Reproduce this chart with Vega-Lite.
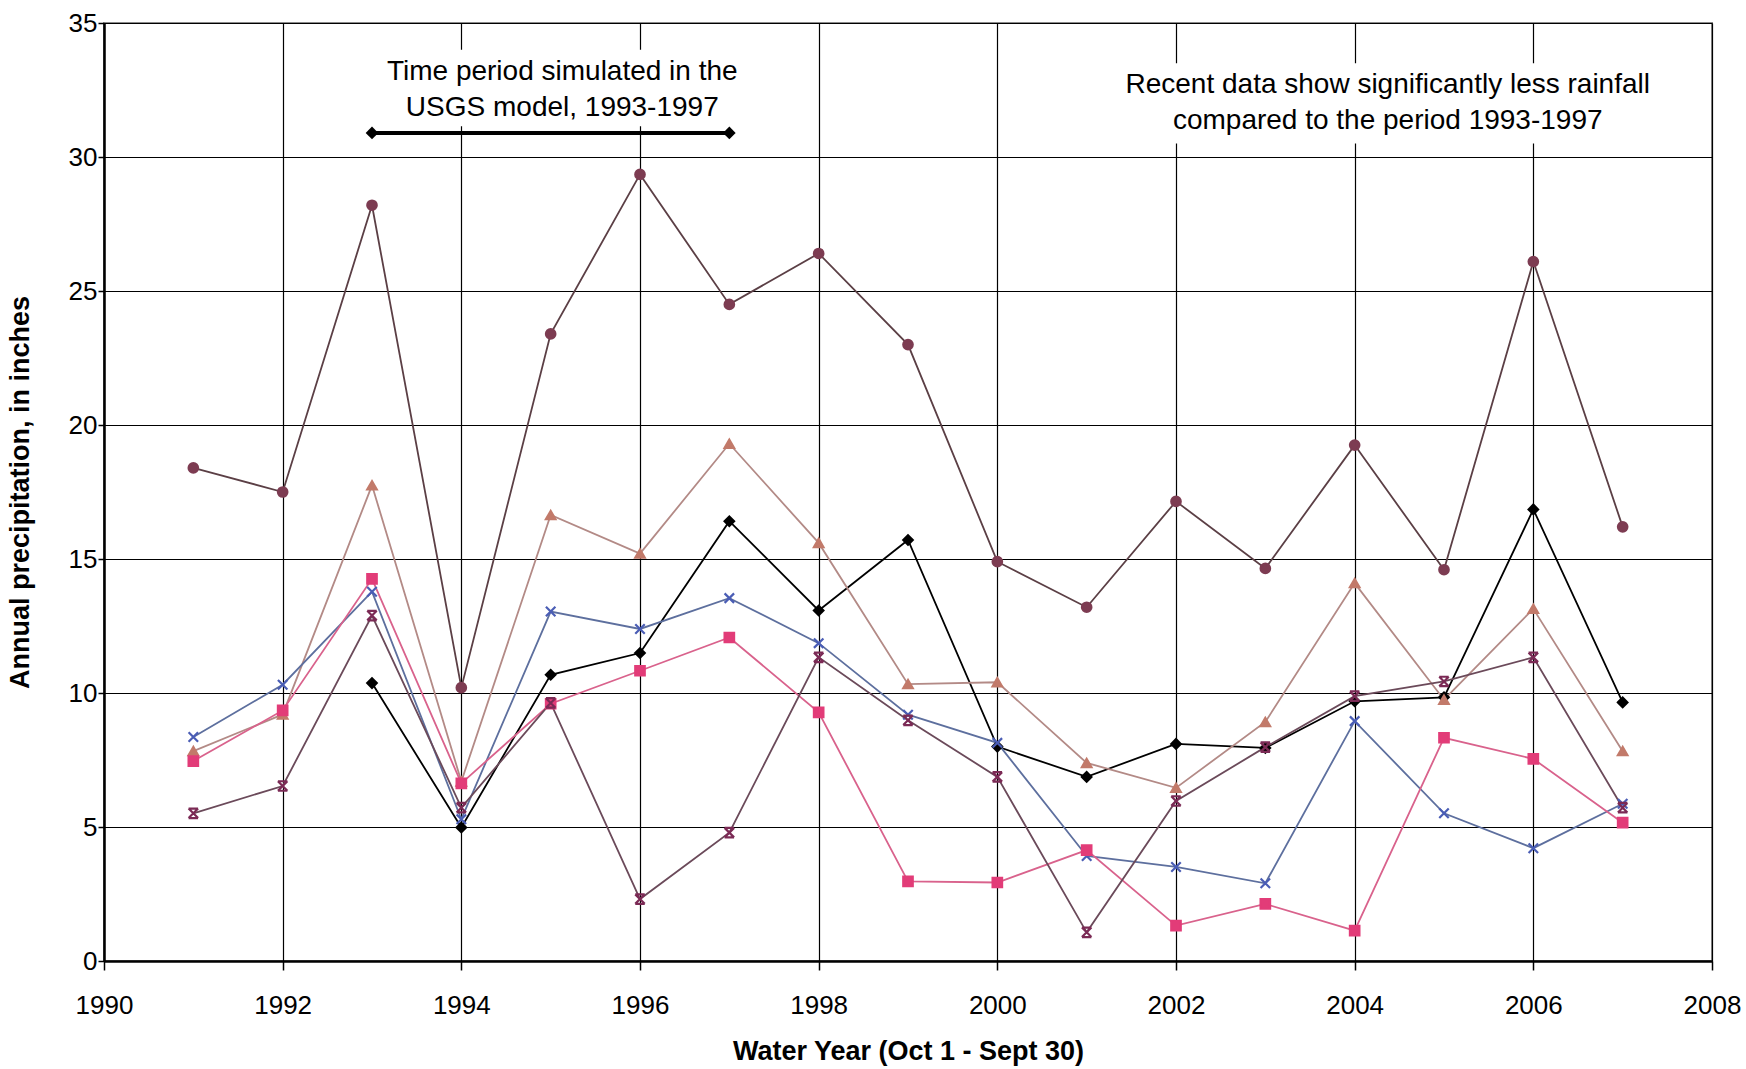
{
  "$schema": "https://vega.github.io/schema/vega-lite/v6.json",
  "width": 1608,
  "height": 938,
  "autosize": {"type": "none"},
  "padding": {"left": 104, "top": 23, "right": 34, "bottom": 108},
  "background": "white",
  "config": {
    "font": "Liberation Sans",
    "view": {"stroke": "#8a8a8a", "strokeWidth": 2}
  },
  "datasets": {
    "precip": [
      {"year": 1991, "value": 18.4, "series": "Site 1"},
      {"year": 1992, "value": 17.5, "series": "Site 1"},
      {"year": 1993, "value": 28.2, "series": "Site 1"},
      {"year": 1994, "value": 10.2, "series": "Site 1"},
      {"year": 1995, "value": 23.4, "series": "Site 1"},
      {"year": 1996, "value": 29.35, "series": "Site 1"},
      {"year": 1997, "value": 24.5, "series": "Site 1"},
      {"year": 1998, "value": 26.4, "series": "Site 1"},
      {"year": 1999, "value": 23.0, "series": "Site 1"},
      {"year": 2000, "value": 14.9, "series": "Site 1"},
      {"year": 2001, "value": 13.2, "series": "Site 1"},
      {"year": 2002, "value": 17.15, "series": "Site 1"},
      {"year": 2003, "value": 14.65, "series": "Site 1"},
      {"year": 2004, "value": 19.25, "series": "Site 1"},
      {"year": 2005, "value": 14.6, "series": "Site 1"},
      {"year": 2006, "value": 26.1, "series": "Site 1"},
      {"year": 2007, "value": 16.2, "series": "Site 1"},

      {"year": 1993, "value": 10.37, "series": "Site 2"},
      {"year": 1994, "value": 4.98, "series": "Site 2"},
      {"year": 1995, "value": 10.68, "series": "Site 2"},
      {"year": 1996, "value": 11.49, "series": "Site 2"},
      {"year": 1997, "value": 16.41, "series": "Site 2"},
      {"year": 1998, "value": 13.08, "series": "Site 2"},
      {"year": 1999, "value": 15.71, "series": "Site 2"},
      {"year": 2000, "value": 8.0, "series": "Site 2"},
      {"year": 2001, "value": 6.87, "series": "Site 2"},
      {"year": 2002, "value": 8.1, "series": "Site 2"},
      {"year": 2003, "value": 7.95, "series": "Site 2"},
      {"year": 2004, "value": 9.69, "series": "Site 2"},
      {"year": 2005, "value": 9.84, "series": "Site 2"},
      {"year": 2006, "value": 16.85, "series": "Site 2"},
      {"year": 2007, "value": 9.65, "series": "Site 2"},

      {"year": 1991, "value": 7.83, "series": "Site 3"},
      {"year": 1992, "value": 9.2, "series": "Site 3"},
      {"year": 1993, "value": 17.75, "series": "Site 3"},
      {"year": 1994, "value": 6.7, "series": "Site 3"},
      {"year": 1995, "value": 16.64, "series": "Site 3"},
      {"year": 1996, "value": 15.2, "series": "Site 3"},
      {"year": 1997, "value": 19.3, "series": "Site 3"},
      {"year": 1998, "value": 15.6, "series": "Site 3"},
      {"year": 1999, "value": 10.33, "series": "Site 3"},
      {"year": 2000, "value": 10.4, "series": "Site 3"},
      {"year": 2001, "value": 7.39, "series": "Site 3"},
      {"year": 2002, "value": 6.46, "series": "Site 3"},
      {"year": 2003, "value": 8.92, "series": "Site 3"},
      {"year": 2004, "value": 14.1, "series": "Site 3"},
      {"year": 2005, "value": 9.75, "series": "Site 3"},
      {"year": 2006, "value": 13.14, "series": "Site 3"},
      {"year": 2007, "value": 7.83, "series": "Site 3"},

      {"year": 1991, "value": 8.36, "series": "Site 4"},
      {"year": 1992, "value": 10.31, "series": "Site 4"},
      {"year": 1993, "value": 13.78, "series": "Site 4"},
      {"year": 1994, "value": 5.29, "series": "Site 4"},
      {"year": 1995, "value": 13.04, "series": "Site 4"},
      {"year": 1996, "value": 12.39, "series": "Site 4"},
      {"year": 1997, "value": 13.54, "series": "Site 4"},
      {"year": 1998, "value": 11.86, "series": "Site 4"},
      {"year": 1999, "value": 9.19, "series": "Site 4"},
      {"year": 2000, "value": 8.14, "series": "Site 4"},
      {"year": 2001, "value": 3.92, "series": "Site 4"},
      {"year": 2002, "value": 3.51, "series": "Site 4"},
      {"year": 2003, "value": 2.9, "series": "Site 4"},
      {"year": 2004, "value": 8.95, "series": "Site 4"},
      {"year": 2005, "value": 5.51, "series": "Site 4"},
      {"year": 2006, "value": 4.21, "series": "Site 4"},
      {"year": 2007, "value": 5.87, "series": "Site 4"},

      {"year": 1991, "value": 7.46, "series": "Site 5"},
      {"year": 1992, "value": 9.35, "series": "Site 5"},
      {"year": 1993, "value": 14.26, "series": "Site 5"},
      {"year": 1994, "value": 6.63, "series": "Site 5"},
      {"year": 1995, "value": 9.6, "series": "Site 5"},
      {"year": 1996, "value": 10.83, "series": "Site 5"},
      {"year": 1997, "value": 12.07, "series": "Site 5"},
      {"year": 1998, "value": 9.28, "series": "Site 5"},
      {"year": 1999, "value": 2.97, "series": "Site 5"},
      {"year": 2000, "value": 2.93, "series": "Site 5"},
      {"year": 2001, "value": 4.14, "series": "Site 5"},
      {"year": 2002, "value": 1.32, "series": "Site 5"},
      {"year": 2003, "value": 2.13, "series": "Site 5"},
      {"year": 2004, "value": 1.13, "series": "Site 5"},
      {"year": 2005, "value": 8.33, "series": "Site 5"},
      {"year": 2006, "value": 7.54, "series": "Site 5"},
      {"year": 2007, "value": 5.16, "series": "Site 5"},

      {"year": 1991, "value": 5.51, "series": "Site 6"},
      {"year": 1992, "value": 6.53, "series": "Site 6"},
      {"year": 1993, "value": 12.89, "series": "Site 6"},
      {"year": 1994, "value": 5.72, "series": "Site 6"},
      {"year": 1995, "value": 9.63, "series": "Site 6"},
      {"year": 1996, "value": 2.31, "series": "Site 6"},
      {"year": 1997, "value": 4.79, "series": "Site 6"},
      {"year": 1998, "value": 11.33, "series": "Site 6"},
      {"year": 1999, "value": 8.98, "series": "Site 6"},
      {"year": 2000, "value": 6.87, "series": "Site 6"},
      {"year": 2001, "value": 1.07, "series": "Site 6"},
      {"year": 2002, "value": 5.97, "series": "Site 6"},
      {"year": 2003, "value": 7.98, "series": "Site 6"},
      {"year": 2004, "value": 9.88, "series": "Site 6"},
      {"year": 2005, "value": 10.43, "series": "Site 6"},
      {"year": 2006, "value": 11.33, "series": "Site 6"},
      {"year": 2007, "value": 5.72, "series": "Site 6"}
    ],
    "period": [
      {"year": 1993, "value": 30.9},
      {"year": 1997, "value": 30.9}
    ],
    "notes": [
      {"year": 1995.13, "value": 32.88, "note": "Time period simulated in the\nUSGS model, 1993-1997"},
      {"year": 2004.37, "value": 32.39, "note": "Recent data show significantly less rainfall\ncompared to the period 1993-1997"}
    ],
    "noteboxes": [
      {"year": 1993.1, "year_end": 1997.15, "value": 34.0, "value_end": 31.15},
      {"year": 2001.3, "year_end": 2007.45, "value": 33.5, "value_end": 30.5}
    ]
  },
  "encoding": {
    "x": {
      "field": "year",
      "type": "quantitative",
      "scale": {"domain": [1990, 2008], "nice": false, "zero": false},
      "axis": {
        "title": "Water Year (Oct 1 - Sept 30)",
        "values": [1990, 1992, 1994, 1996, 1998, 2000, 2002, 2004, 2006, 2008],
        "format": "d",
        "grid": true,
        "gridColor": "#000000",
        "gridWidth": 1.2,
        "gridOpacity": 1,
        "domainColor": "#000000",
        "domainWidth": 2.5,
        "tickColor": "#000000",
        "tickSize": 9,
        "tickWidth": 1.5,
        "labelFontSize": 26,
        "labelColor": "#000000",
        "labelBaseline": "alphabetic",
        "labelPadding": 43,
        "labelFlush": false,
        "labelOverlap": false,
        "titleFontSize": 27,
        "titleFontWeight": "bold",
        "titleColor": "#000000",
        "titleBaseline": "alphabetic",
        "titleY": 98
      }
    },
    "y": {
      "field": "value",
      "type": "quantitative",
      "scale": {"domain": [0, 35], "nice": false, "zero": true},
      "axis": {
        "title": "Annual precipitation, in inches",
        "values": [0, 5, 10, 15, 20, 25, 30, 35],
        "grid": true,
        "gridColor": "#000000",
        "gridWidth": 1.2,
        "gridOpacity": 1,
        "domainColor": "#000000",
        "domainWidth": 2.5,
        "tickColor": "#000000",
        "tickSize": 6,
        "tickWidth": 1.5,
        "labelFontSize": 26,
        "labelColor": "#000000",
        "labelPadding": 1,
        "labelFlush": false,
        "labelOverlap": false,
        "titleFontSize": 27,
        "titleFontWeight": "bold",
        "titleColor": "#000000",
        "titleAngle": -90,
        "titleBaseline": "alphabetic",
        "titleX": -76
      }
    }
  },
  "layer": [
    {
      "data": {"name": "noteboxes"},
      "mark": {"type": "rect", "color": "#ffffff", "opacity": 1},
      "encoding": {
        "x2": {"field": "year_end"},
        "y2": {"field": "value_end"}
      }
    },
    {
      "data": {"name": "precip"},
      "mark": {"type": "line", "strokeWidth": 1.8},
      "encoding": {
        "color": {
          "field": "series",
          "type": "nominal",
          "legend": null,
          "scale": {
            "domain": ["Site 1", "Site 2", "Site 3", "Site 4", "Site 5", "Site 6"],
            "range": ["#5b3f45", "#000000", "#b38a86", "#5d6f9e", "#d9628c", "#6b4a5a"]
          }
        }
      }
    },
    {
      "data": {"name": "precip"},
      "mark": {"type": "point", "filled": true, "size": 90, "strokeWidth": 2.2, "opacity": 1},
      "encoding": {
        "shape": {
          "field": "series",
          "type": "nominal",
          "legend": null,
          "scale": {
            "domain": ["Site 1", "Site 2", "Site 3", "Site 4", "Site 5", "Site 6"],
            "range": ["circle", "diamond", "triangle-up", "M-1,-1L1,1M1,-1L-1,1", "square", "M-1,-1L1,1M1,-1L-1,1M-1,-1L1,-1M-1,1L1,1"]
          }
        },
        "fill": {
          "field": "series",
          "type": "nominal",
          "legend": null,
          "scale": {
            "domain": ["Site 1", "Site 2", "Site 3", "Site 4", "Site 5", "Site 6"],
            "range": ["#7d3c52", "#000000", "#c27a6a", "#4a5db5", "#e23c78", "#7b2a55"]
          }
        },
        "stroke": {
          "field": "series",
          "type": "nominal",
          "legend": null,
          "scale": {
            "domain": ["Site 1", "Site 2", "Site 3", "Site 4", "Site 5", "Site 6"],
            "range": ["#7d3c52", "#000000", "#c27a6a", "#4a5db5", "#e23c78", "#7b2a55"]
          }
        }
      }
    },
    {
      "data": {"name": "period"},
      "mark": {"type": "line", "color": "#000000", "strokeWidth": 4}
    },
    {
      "data": {"name": "period"},
      "mark": {"type": "point", "shape": "diamond", "filled": true, "color": "#000000", "size": 160, "opacity": 1}
    },
    {
      "data": {"name": "notes"},
      "mark": {
        "type": "text",
        "fontSize": 28,
        "lineHeight": 36,
        "lineBreak": "\n",
        "align": "center",
        "baseline": "alphabetic",
        "color": "#000000"
      },
      "encoding": {
        "text": {"field": "note", "type": "nominal"}
      }
    }
  ]
}
